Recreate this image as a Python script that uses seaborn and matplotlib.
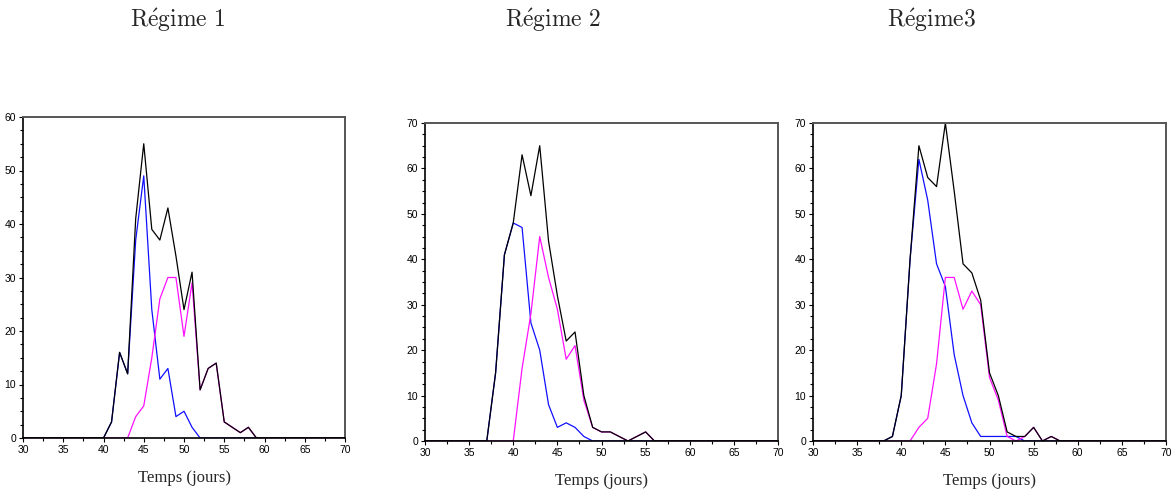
import numpy as np
import pandas as pd
import matplotlib
matplotlib.use("Agg")
import matplotlib.pyplot as plt
import seaborn as sns
from matplotlib.ticker import MultipleLocator

sns.set_theme(style="white")
plt.rcParams['mathtext.fontset'] = 'cm'

DAYS = list(range(30, 71))

# Régime 1 : (first day, values) for each curve, 0 outside
r1_blue = (40, [0, 3, 16, 12, 37, 49, 24, 11, 13, 4, 5, 2, 0])
r1_mag = (43, [0, 4, 6, 15, 26, 30, 30, 19, 29, 9, 13, 14, 3, 2, 1, 2, 0])
r1_tot = (40, [0, 3, 16, 12, 41, 55, 39, 37, 43, 34, 24, 31, 9, 13, 14, 3, 2, 1, 2, 0])

# Régime 2
r2_blue = (37, [0, 15, 41, 48, 47, 26, 20, 8, 3, 4, 3, 1, 0])
r2_mag = (40, [0, 16, 28, 45, 36, 29, 18, 21, 9, 3, 2, 2, 1, 0, 1, 2, 0])
r2_tot = (37, [0, 15, 41, 48, 63, 54, 65, 44, 32, 22, 24, 10, 3, 2, 2, 1, 0, 1, 2, 0])

# Régime 3
r3_blue = (38, [0, 1, 10, 40, 62, 53, 39, 34, 19, 10, 4, 1, 1, 1, 1, 1, 0])
r3_mag = (41, [0, 3, 5, 17, 36, 36, 29, 33, 30, 14, 9, 1, 0, 1, 3, 0, 1, 0])
r3_tot = (38, [0, 1, 10, 40, 65, 58, 56, 70, 55, 39, 37, 31, 15, 10, 2, 1, 1, 3, 0, 1, 0])

titles = [r'$\mathrm{R\acute{e}gime\ 1}$', r'$\mathrm{R\acute{e}gime\ 2}$', r'$\mathrm{R\acute{e}gime3}$']
title_x = [178, 553, 932]
ymax = [60, 70, 70]


def full(curve):
    start, vals = curve
    out = [0] * len(DAYS)
    for i, v in enumerate(vals):
        out[start - DAYS[0] + i] = v
    return out


def long_df(blue, mag, tot):
    return pd.DataFrame({
        'jour': DAYS * 3,
        'n': full(blue) + full(mag) + full(tot),
        'serie': ['a'] * len(DAYS) + ['b'] * len(DAYS) + ['c'] * len(DAYS),
    })


W, H = 1174, 491
fig = plt.figure(figsize=(W / 100, H / 100), dpi=100)
boxes = [(23, 117, 345, 438), (425, 123, 778, 441), (813, 123, 1166, 441)]
data = [(r1_blue, r1_mag, r1_tot), (r2_blue, r2_mag, r2_tot), (r3_blue, r3_mag, r3_tot)]
palette = {'a': '#1010ff', 'b': '#ff10ff', 'c': '#000000'}

for k in range(3):
    x0, y0, x1, y1 = boxes[k]
    ax = fig.add_axes([x0 / W, (H - y1) / H, (x1 - x0) / W, (y1 - y0) / H])
    df = long_df(*data[k])
    sns.lineplot(data=df, x='jour', y='n', hue='serie', palette=palette,
                 linewidth=0.9, legend=False, ax=ax)
    ax.set_xlim(30, 70)
    ax.set_ylim(0, ymax[k])
    ax.xaxis.set_major_locator(MultipleLocator(5))
    ax.xaxis.set_minor_locator(MultipleLocator(2.5))
    ax.yaxis.set_major_locator(MultipleLocator(10))
    ax.yaxis.set_minor_locator(MultipleLocator(2.5))
    ax.tick_params(which='major', direction='out', length=3, width=0.8, colors='black',
                   labelsize=7.5, pad=2, bottom=True, left=True)
    ax.tick_params(which='minor', direction='out', length=2.5, width=0.8, colors='black',
                   bottom=True, left=True)
    for lab in ax.get_xticklabels() + ax.get_yticklabels():
        lab.set_fontfamily('Liberation Sans')
    for s in ['left', 'bottom']:
        ax.spines[s].set_color('black')
        ax.spines[s].set_linewidth(1.2)
    for s in ['top', 'right']:
        ax.spines[s].set_color('#555555')
        ax.spines[s].set_linewidth(1.4)
    ax.set_ylabel('')
    ax.set_xlabel('Temps (jours)', fontfamily='Liberation Serif', fontsize=12, labelpad=11)
    fig.text(title_x[k] / W, 1 - 20 / H, titles[k], ha='center', va='center', fontsize=17)

fig.savefig('out.png', dpi=100)
